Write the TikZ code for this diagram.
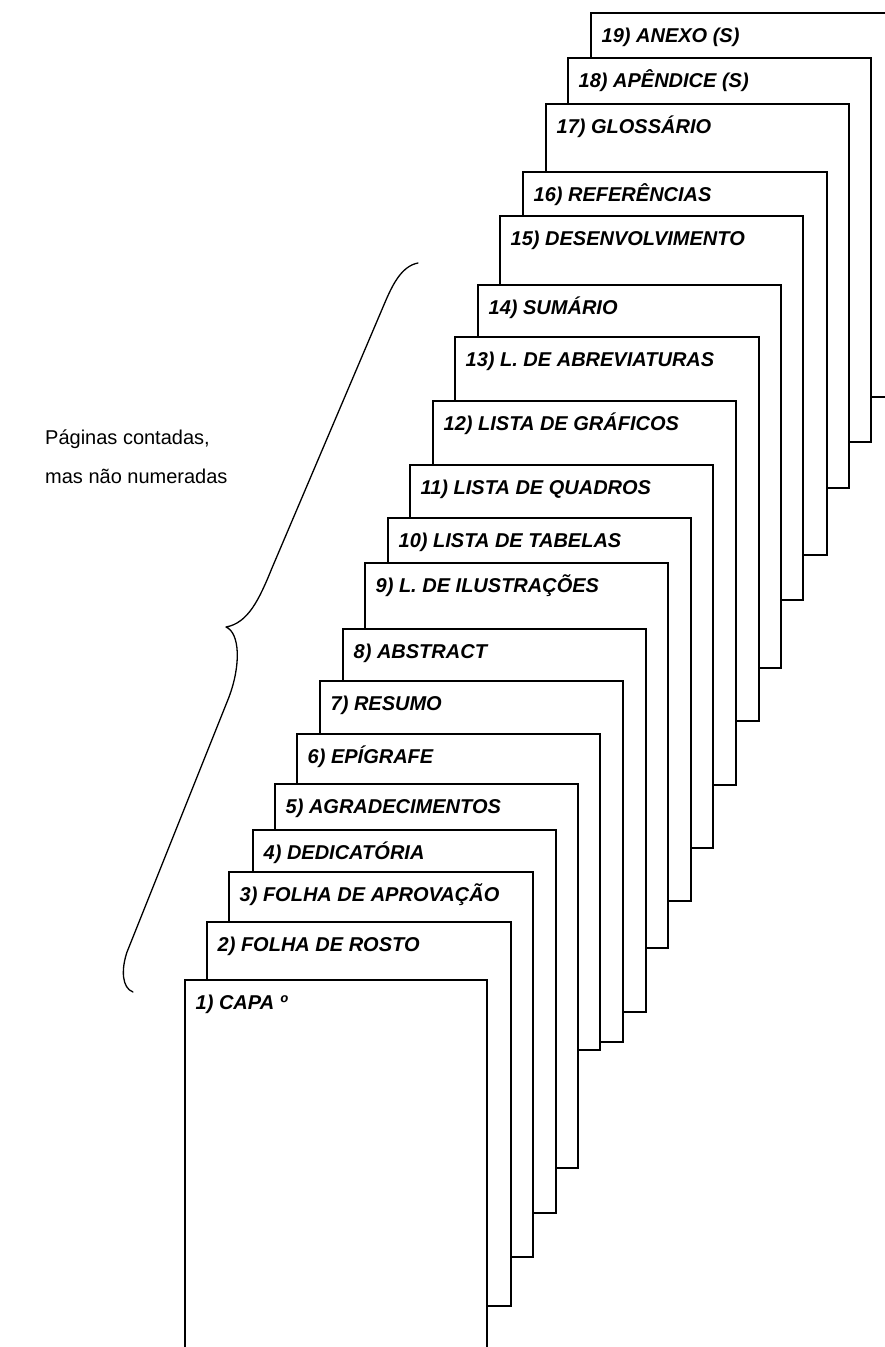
\documentclass[tikz,border=0pt]{standalone}
\usepackage{fontspec}
\setmainfont{Liberation Sans}
\begin{document}
\begin{tikzpicture}[x=1pt,y=-1pt,
  sheet/.style={draw=black, fill=white, line width=1.7pt, rectangle,
    inner sep=0pt, outer sep=0pt, anchor=north west},
  sheetlabel/.style={anchor=base west, inner sep=0pt,
    font=\fontsize{20}{22}\selectfont\bfseries\itshape},
  note/.style={anchor=base west, inner sep=0pt,
    font=\fontsize{20}{24}\selectfont},
  bracestroke/.style={line width=1.3pt, line cap=round, line join=round}]
\useasboundingbox (0,0) rectangle (885,1347);
\begin{scope}
  \clip (0,0) rectangle (885,1347);
  % sheets from the back (19) to the front (1): number/left/top/right/bottom/title
  \foreach \n/\l/\t/\r/\b/\txt in {
    19/591/13/894/397/{19) ANEXO (S)},
    18/568/58/871/442/{18) APÊNDICE (S)},
    17/546/104/849/488/{17) GLOSSÁRIO},
    16/523/172/827/555/{16) REFERÊNCIAS},
    15/500/216/803/600/{15) DESENVOLVIMENTO},
    14/478/285/781/668/{14) SUMÁRIO},
    13/455/337/759/721/{13) L. DE ABREVIATURAS},
    12/433/401/736/785/{12) LISTA DE GRÁFICOS},
    11/410/465/713/848/{11) LISTA DE QUADROS},
    10/388/518/691/901/{10) LISTA DE TABELAS},
    9/365/563/668/948/{9) L. DE ILUSTRAÇÕES},
    8/343/629/646/1012/{8) ABSTRACT},
    7/320/681/623/1042/{7) RESUMO},
    6/297/734/600/1050/{6) EPÍGRAFE},
    5/275/784/578/1168/{5) AGRADECIMENTOS},
    4/253/830/556/1213/{4) DEDICATÓRIA},
    3/229/872/533/1257/{3) FOLHA DE APROVAÇÃO},
    2/207/922/511/1306/{2) FOLHA DE ROSTO},
    1/185/980/487/1364/{1) CAPA º}}{
    \node[sheet, minimum width={(\r-\l)*1pt}, minimum height={(\b-\t)*1pt}]
      (p\n) at (\l,\t) {};
    \node[sheetlabel] (t\n) at ([xshift=10.5pt,yshift=-29.5pt]p\n.north west) {\txt};
  }
\end{scope}

% side note and its brace
\node[note] (n1) at (45,444) {Páginas contadas,};
\node[note] (n2) at (45,483) {mas não numeradas};

\coordinate (btop) at (418,263);
\coordinate (btip) at (226,627);
\coordinate (bbot) at (133,992);
\draw[bracestroke] (btop)
  .. controls (402,266) and (393,284) .. (386,300)
  -- (272,568)
  .. controls (259,600) and (248,623) .. (btip)
  .. controls (240,633) and (241,665) .. (229,697)
  -- (127,952)
  .. controls (121,970) and (122,988) .. (bbot);
\end{tikzpicture}
\end{document}
